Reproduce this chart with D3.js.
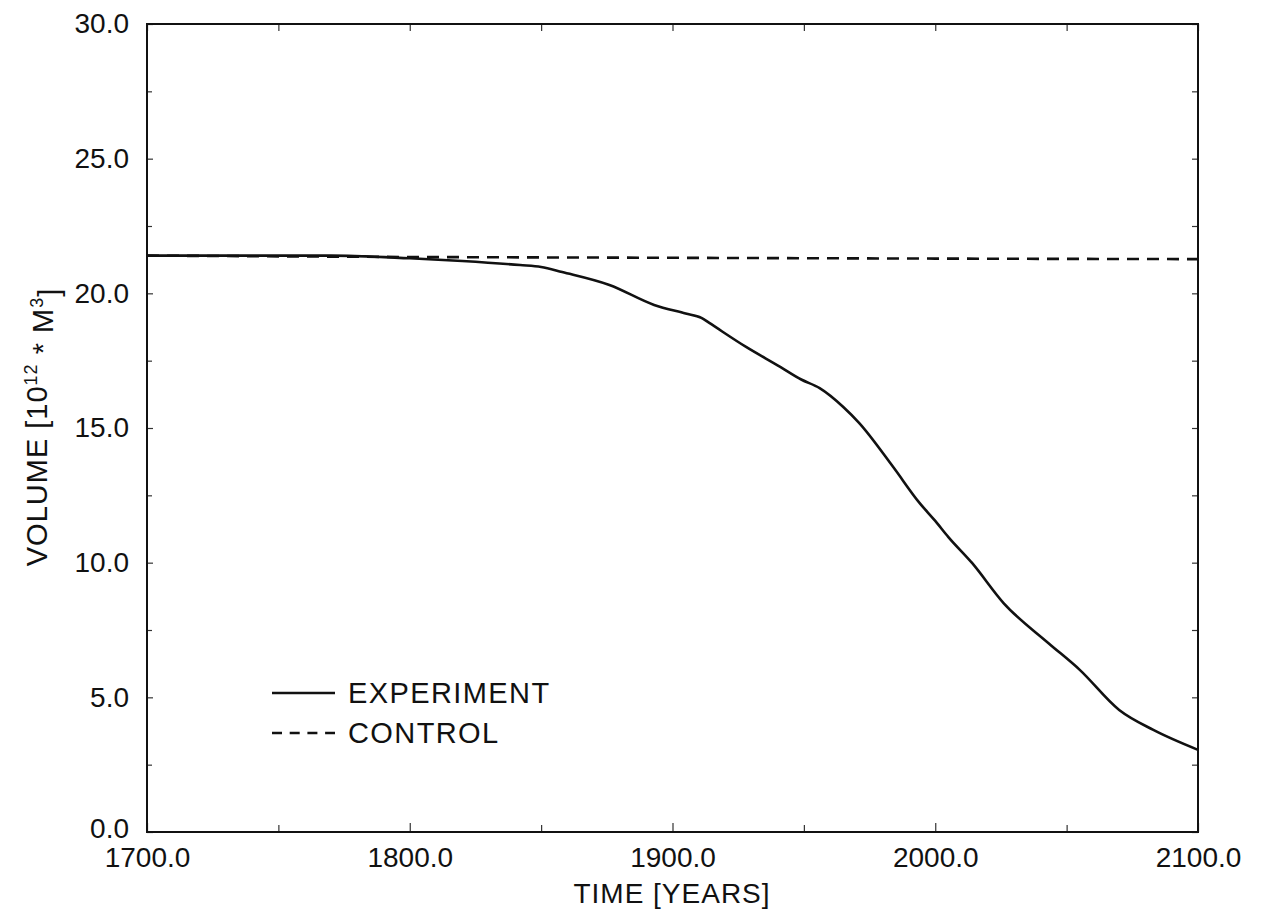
<!DOCTYPE html>
<html>
<head>
<meta charset="utf-8">
<script src="https://cdn.jsdelivr.net/npm/d3@7"></script>
<style>
  html, body { margin: 0; padding: 0; background: #fff; }
  svg { display: block; }
  text { font-family: "Liberation Sans", Arial, Helvetica, sans-serif; fill: #111; }
</style>
</head>
<body>
<svg id="chart" width="1265" height="917"></svg>
<script>
// ---- data ----
const experimentYears  = [1700, 1750, 1770, 1800, 1820, 1842, 1850, 1858, 1876, 1893, 1905, 1911, 1914, 1928, 1941, 1949, 1956, 1965, 1971, 1984, 1994, 2000, 2005, 2014, 2026, 2043, 2055, 2070, 2083, 2100];
const experimentVolume = [21.40, 21.40, 21.40, 21.30, 21.20, 21.05, 20.98, 20.79, 20.31, 19.57, 19.25, 19.09, 18.90, 18.01, 17.27, 16.80, 16.48, 15.78, 15.19, 13.55, 12.22, 11.55, 10.95, 9.99, 8.50, 7.02, 6.02, 4.53, 3.79, 3.05];
const controlYears  = [1700, 1800, 1900, 2000, 2100];
const controlVolume = [21.40, 21.35, 21.32, 21.29, 21.27];
const xMajorTicks = [1700, 1800, 1900, 2000, 2100];
const xMinorTicks = [1750, 1850, 1950, 2050];
const yMajorTicks = [0, 5, 10, 15, 20, 25, 30];
const yMinorTicks = [2.5, 7.5, 12.5, 17.5, 22.5, 27.5];
const legendLabels = ["EXPERIMENT", "CONTROL"];

const svg = d3.select("#chart");
const L = 147, R = 1198, T = 24, B = 832;

const x = d3.scaleLinear().domain([1700, 2100]).range([L, R]);
const y = d3.scaleLinear().domain([0, 30]).range([B, T]);
const fmt = d3.format(".1f");

function styleAxis(g) {
  g.select(".domain").remove();
  g.selectAll(".tick line").attr("stroke", "#333").attr("stroke-width", 1.2);
  g.selectAll("text").style("font-size", "28px").attr("fill", "#111");
}

// bottom axis
svg.append("g").attr("transform", `translate(0,${B})`)
  .call(d3.axisBottom(x).tickValues(xMajorTicks).tickSize(-9).tickPadding(15).tickFormat(fmt))
  .call(styleAxis);
svg.append("g").attr("transform", `translate(0,${B})`)
  .call(d3.axisBottom(x).tickValues(xMinorTicks).tickSize(-7).tickFormat(""))
  .call(styleAxis);
// top axis
svg.append("g").attr("transform", `translate(0,${T})`)
  .call(d3.axisTop(x).tickValues(xMajorTicks.concat(xMinorTicks)).tickSize(-7).tickFormat(""))
  .call(styleAxis);
// left axis
svg.append("g").attr("transform", `translate(${L},0)`)
  .call(d3.axisLeft(y).tickValues(yMajorTicks).tickSize(-6).tickPadding(18).tickFormat(fmt))
  .call(styleAxis);
svg.append("g").attr("transform", `translate(${L},0)`)
  .call(d3.axisLeft(y).tickValues(yMinorTicks).tickSize(-5).tickFormat(""))
  .call(styleAxis);
// right axis
svg.append("g").attr("transform", `translate(${R},0)`)
  .call(d3.axisRight(y).tickValues(yMajorTicks.concat(yMinorTicks)).tickSize(-6).tickFormat(""))
  .call(styleAxis);

// nudge the "0.0" label up slightly so it clears "1700.0"
svg.selectAll("g.tick text").filter(function(d){ return d === 0 && this.getAttribute("x") !== null && +this.getAttribute("x") < 0; })
  .attr("dy", "0.2em");

// frame
svg.append("rect").attr("x", L).attr("y", T).attr("width", R - L).attr("height", B - T)
  .attr("fill", "none").attr("stroke", "#111").attr("stroke-width", 2);

// lines
const line = d3.line().x(d => x(d[0])).y(d => y(d[1])).curve(d3.curveMonotoneX);
svg.append("path")
  .datum(controlYears.map((d, i) => [d, controlVolume[i]]))
  .attr("d", line).attr("fill", "none").attr("stroke", "#111")
  .attr("stroke-width", 2.6).attr("stroke-dasharray", "12,8");
svg.append("path")
  .datum(experimentYears.map((d, i) => [d, experimentVolume[i]]))
  .attr("d", line).attr("fill", "none").attr("stroke", "#111")
  .attr("stroke-width", 2.6);

// legend
const lg = svg.append("g");
const legendY = [693, 733];
legendLabels.forEach((lab, i) => {
  lg.append("line").attr("x1", 272).attr("x2", 335).attr("y1", legendY[i]).attr("y2", legendY[i])
    .attr("stroke", "#111").attr("stroke-width", 2.4)
    .attr("stroke-dasharray", i === 1 ? "10,7.7" : null);
  lg.append("text").attr("x", 348).attr("y", legendY[i]).attr("dy", "0.36em")
    .style("font-size", "29px").style("letter-spacing", "1.4px").text(lab);
});

// axis titles
svg.append("text").attr("x", 672).attr("y", 903).attr("text-anchor", "middle")
  .style("font-size", "28px").style("letter-spacing", "1px").text("TIME [YEARS]");

const yt = svg.append("text").attr("transform", "translate(47,427) rotate(-90)")
  .attr("text-anchor", "middle").style("font-size", "29px").style("letter-spacing", "1px");
yt.append("tspan").text("VOLUME [10");
yt.append("tspan").attr("dy", "-0.55em").style("font-size", "18px").text("12");
yt.append("tspan").attr("dy", "0.55em").text(" * M");
yt.append("tspan").attr("dy", "-0.55em").style("font-size", "18px").text("3");
yt.append("tspan").attr("dy", "0.55em").text("]");
</script>
</body>
</html>
